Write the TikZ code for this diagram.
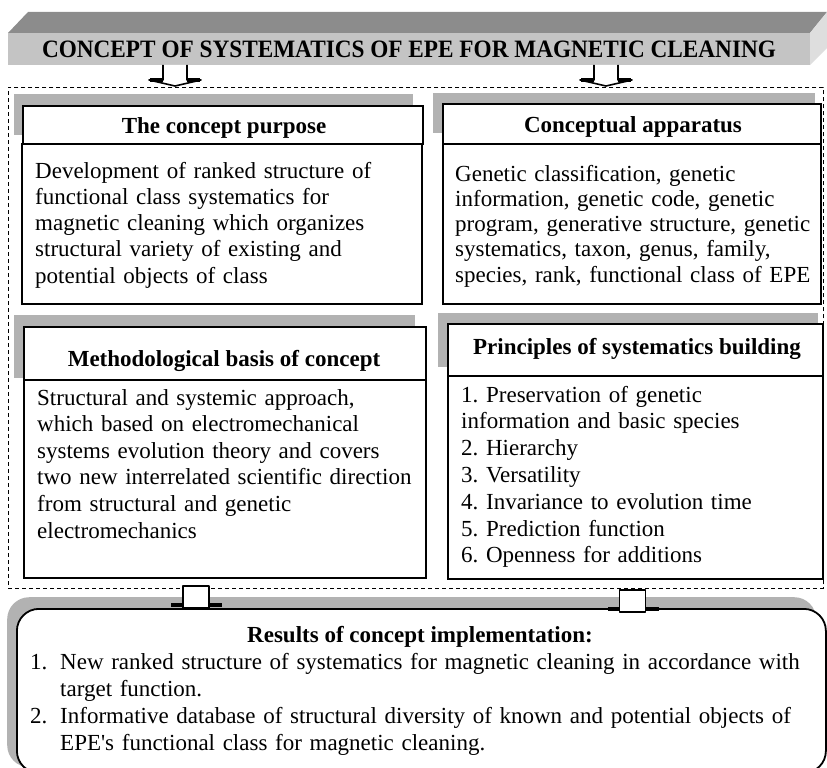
\documentclass[tikz,border=0pt]{standalone}
\usepackage{fontspec}
\setmainfont{Liberation Serif}[Ligatures=TeXOff]
\newfontfamily\titlefont[FakeStretch=0.93]{Liberation Serif}
\definecolor{shadowgray}{RGB}{178,178,178}
\definecolor{topface}{RGB}{140,140,140}
\definecolor{frontface}{RGB}{196,196,196}
\definecolor{sideface}{RGB}{222,222,222}
\begin{document}
\frenchspacing
\begin{tikzpicture}[x=1pt,y=-1pt,
  boxframe/.style={draw=black, line width=1.8pt, fill=white, inner sep=0, anchor=north west},
  shadowbox/.style={fill=shadowgray, draw=none, inner sep=0, anchor=north west},
  hdrtext/.style={font=\fontsize{23}{26}\selectfont\bfseries, inner sep=0, anchor=base},
  bodytext/.style={font=\fontsize{23}{#1}\selectfont, inner sep=0, align=left, anchor=base west, text width=400pt},
  conn/.style={draw=black, fill=white, line width=1.6pt, line join=round},
  wing/.style={draw=black, line width=3.2pt}]
\useasboundingbox (0,0) rectangle (827,768);
\clip (0,0) rectangle (827,768);
% ---- title bar (3D) ----
\fill[topface] (8,33) -- (28,12) -- (827,12) -- (810,33) -- cycle;
\fill[sideface] (810,33) -- (827,12) -- (827,48) -- (810,65) -- cycle;
\fill[frontface] (8,33) rectangle (810,65);
\node[font=\titlefont\fontsize{25}{28}\selectfont\bfseries, inner sep=0, anchor=base] (title) at (409,57.5) {CONCEPT OF SYSTEMATICS OF EPE FOR MAGNETIC CLEANING};
% ---- dashed frame ----
\node[draw=black, dash pattern=on 4pt off 3pt, line width=0.8pt, inner sep=0, anchor=north west, minimum width=815, minimum height=501] (frame) at (8,87) {};
% ---- shadows ----
\node[shadowbox, minimum width=399, minimum height=41] (sh1) at (14,94) {};
\node[shadowbox, minimum width=382, minimum height=40] (sh2) at (433,93) {};
\node[shadowbox, minimum width=401, minimum height=63] (sh3) at (14,315) {};
\node[shadowbox, minimum width=380, minimum height=54] (sh4) at (438,313) {};
% ---- boxes ----
\node[boxframe, minimum width=400, minimum height=38] (purposeH) at (22,105) {};
\node[boxframe, minimum width=400, minimum height=160] (purposeB) at (21,143) {};
\node[boxframe, minimum width=378, minimum height=40] (appH) at (442,103) {};
\node[boxframe, minimum width=378, minimum height=160] (appB) at (442,143) {};
\node[boxframe, minimum width=402, minimum height=53] (methH) at (23,326) {};
\node[boxframe, minimum width=402, minimum height=198] (methB) at (23,379) {};
\node[boxframe, minimum width=375, minimum height=52] (prinH) at (447,323) {};
\node[boxframe, minimum width=375, minimum height=203] (prinB) at (447,375) {};
% ---- header texts ----
\node[hdrtext] (purposeT) at (224,133) {The concept purpose};
\node[hdrtext] (appT) at (633,132) {Conceptual apparatus};
\node[hdrtext] (methT) at (224,366) {Methodological basis of concept};
\node[hdrtext] (prinT) at (637,354) {Principles of systematics building};
% ---- body texts ----
\node[bodytext=26.3] (purposeX) at (35,178) {Development of ranked structure of\\functional class systematics for\\magnetic cleaning which organizes\\structural variety of existing and\\potential objects of class};
\node[bodytext=25.3] (appX) at (455,181) {Genetic classification, genetic\\information, genetic code, genetic\\program, generative structure, genetic\\systematics, taxon, genus, family,\\species, rank, functional class of EPE};
\node[bodytext=26.6] (methX) at (37,405) {Structural and systemic approach,\\which based on electromechanical\\systems evolution theory and covers\\two new interrelated scientific direction\\from structural and genetic\\electromechanics};
\node[bodytext=26.8] (prinX) at (461,402) {1. Preservation of genetic\\information and basic species\\2. Hierarchy\\3. Versatility\\4. Invariance to evolution time\\5. Prediction function\\6. Openness for additions};
% ---- top connectors ----
\coordinate (a1) at (175,65);
\coordinate (a2) at (606,65);
\foreach \c in {a1,a2}{
  \draw[conn] (\c) ++(-12,0) -- ++(0,15) -- ++(-14,0) -- ++(26,6) -- ++(26,-6) -- ++(-14,0) -- ++(0,-15);
  \draw[wing] (\c) ++(-12,15) -- ++(-13,0);
  \draw[wing] (\c) ++(12,15) -- ++(13,0);
}
% ---- results box ----
\node[shadowbox, rounded corners=22pt, minimum width=809, minimum height=170] (resS) at (7,597) {};
\node[boxframe, rounded corners=22pt, minimum width=809, minimum height=164] (res) at (16,608) {};
\node[hdrtext] (resT) at (420,642) {Results of concept implementation:};
\node[font=\fontsize{23}{27}\selectfont, inner sep=0, anchor=base west] (r1n) at (30,669) {1.};
\node[font=\fontsize{23}{27}\selectfont, inner sep=0, anchor=base west, align=left, text width=780pt] (r1) at (60,669) {New ranked structure of systematics for magnetic cleaning in accordance with\\target function.};
\node[font=\fontsize{23}{27}\selectfont, inner sep=0, anchor=base west] (r2n) at (30,723) {2.};
\node[font=\fontsize{23}{27}\selectfont, inner sep=0, anchor=base west, align=left, text width=780pt] (r2) at (60,723) {Informative database of structural diversity of known and potential objects of\\EPE's functional class for magnetic cleaning.};
% ---- bottom connectors ----
\coordinate (b1) at (196,586);
\coordinate (b2) at (632.5,590);
\foreach \c in {b1,b2}{
  \draw[wing] (\c) ++(-13,19) -- ++(-12,0);
  \draw[wing] (\c) ++(13,19) -- ++(13,0);
  \draw[conn] (\c) ++(-13,0) rectangle ++(26,22);
}
\end{tikzpicture}
\end{document}
